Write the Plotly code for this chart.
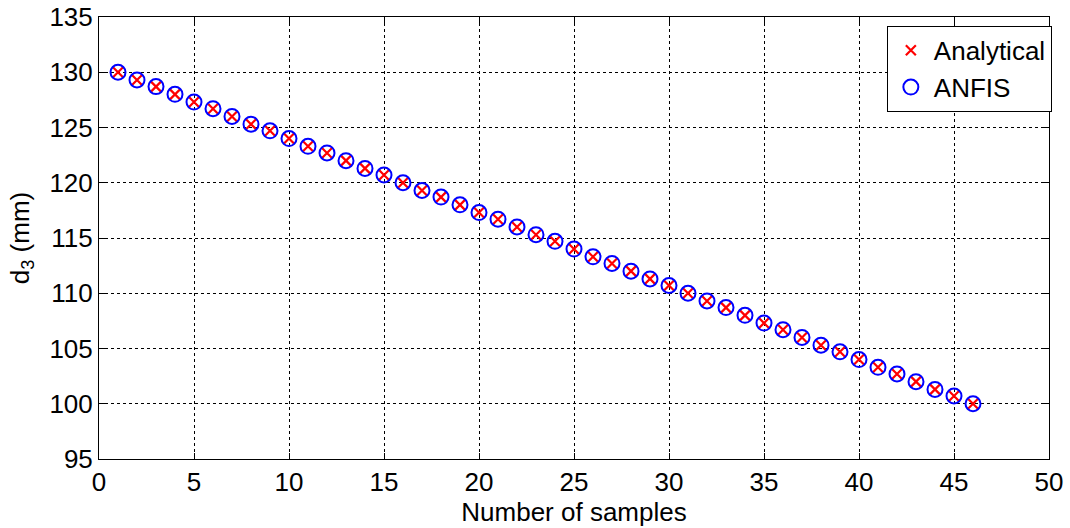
import plotly.graph_objects as go

samples = list(range(1, 47))
analytical = [130.0, 129.3, 128.7, 128.0, 127.3, 126.7, 126.0, 125.3, 124.7, 124.0,
              123.3, 122.7, 122.0, 121.3, 120.7, 120.0, 119.3, 118.7, 118.0, 117.3,
              116.7, 116.0, 115.3, 114.7, 114.0, 113.3, 112.7, 112.0, 111.3, 110.7,
              110.0, 109.3, 108.7, 108.0, 107.3, 106.7, 106.0, 105.3, 104.7, 104.0,
              103.3, 102.7, 102.0, 101.3, 100.7, 100.0]
anfis = [130.0, 129.3, 128.7, 128.0, 127.3, 126.7, 126.0, 125.3, 124.7, 124.0,
         123.3, 122.7, 122.0, 121.3, 120.7, 120.0, 119.3, 118.7, 118.0, 117.3,
         116.7, 116.0, 115.3, 114.7, 114.0, 113.3, 112.7, 112.0, 111.3, 110.7,
         110.0, 109.3, 108.7, 108.0, 107.3, 106.7, 106.0, 105.3, 104.7, 104.0,
         103.3, 102.7, 102.0, 101.3, 100.7, 100.0]
x_ticks = [0, 5, 10, 15, 20, 25, 30, 35, 40, 45, 50]
y_ticks = [95, 100, 105, 110, 115, 120, 125, 130, 135]

FONT = "Liberation Sans, Arial, sans-serif"
FS = 26

fig = go.Figure()
fig.add_trace(go.Scatter(
    x=samples, y=analytical, mode="markers", name="Analytical",
    marker=dict(symbol="x-thin-open", size=10, color="red",
                line=dict(color="red", width=2.2)),
))
fig.add_trace(go.Scatter(
    x=samples, y=anfis, mode="markers", name="ANFIS",
    marker=dict(symbol="circle-open", size=15, color="blue",
                line=dict(color="blue", width=2)),
))

axis_common = dict(
    showline=True, linecolor="black", linewidth=1, mirror="ticks",
    ticks="inside", ticklen=6, tickcolor="black",
    showgrid=True, gridcolor="black", griddash="dot", gridwidth=1,
    zeroline=False, automargin=False,
    tickfont=dict(family=FONT, size=FS, color="black"),
)

fig.update_xaxes(range=[0, 50], tickvals=x_ticks,
                 title=dict(text="Number of samples", font=dict(family=FONT, size=FS, color="black"), standoff=0),
                 **axis_common)
fig.update_yaxes(range=[95, 135], tickvals=y_ticks,
                 title=dict(text="d<sub>3</sub> (mm)", font=dict(family=FONT, size=FS, color="black"), standoff=12),
                 **axis_common)

fig.update_layout(
    width=1070, height=528,
    margin=dict(l=99, r=21, t=17, b=69),
    paper_bgcolor="white", plot_bgcolor="white",
    font=dict(family=FONT, color="black"),
    legend=dict(x=1.003, xanchor="right", y=0.98, yanchor="top",
                bgcolor="white", bordercolor="black", borderwidth=1,
                font=dict(family=FONT, size=FS, color="black"),
                itemwidth=36, entrywidth=140, entrywidthmode="pixels"),
    showlegend=True,
)

fig.write_html("out.html")
